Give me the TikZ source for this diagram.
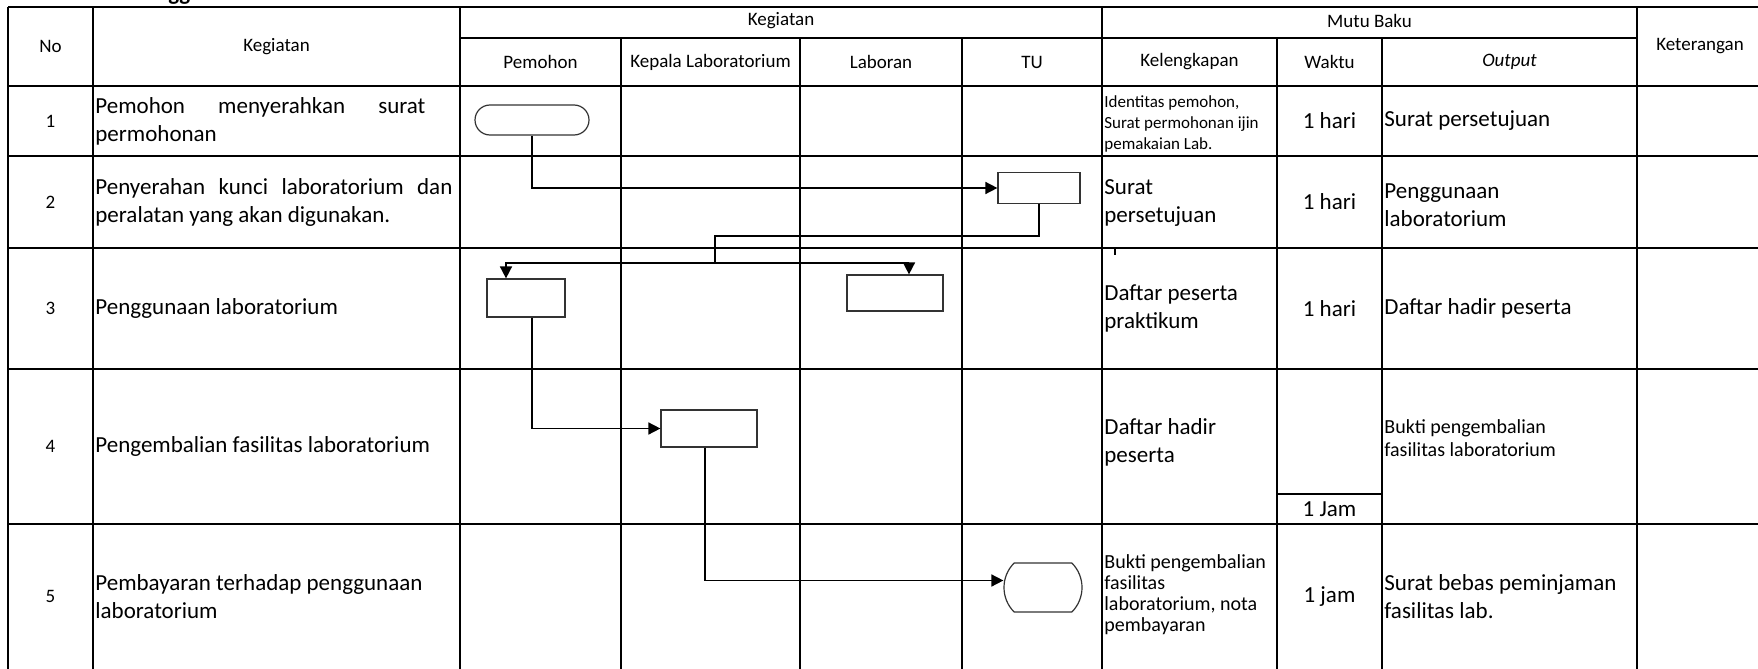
\documentclass[tikz,border=0pt]{standalone}
\usepackage{fontspec}
\setmainfont{Carlito}
\usetikzlibrary{arrows.meta, shapes.misc}

\begin{document}
\begin{tikzpicture}[x=0.5pt, y=-0.5pt,
grid/.style={line width=1.3pt},
hdr/.style={inner sep=0pt, font=\fontsize{9.5}{11.5}\selectfont},
mid/.style={inner sep=0pt, font=\fontsize{11.5}{14}\selectfont},
cell/.style={inner sep=0pt, anchor=west, align=left, font=\fontsize{11.5}{14}\selectfont},
smallcell/.style={cell, font=\fontsize{10}{11.5}\selectfont},
tinycell/.style={cell, font=\fontsize{8.5}{10.4}\selectfont},
box/.style={draw=black!80, line width=0.6pt, inner sep=0pt, fill=white},
term/.style={box, rounded rectangle},
link/.style={line width=0.8pt},
flow/.style={line width=0.8pt, -{Triangle[length=6pt, width=6pt]}}]

\useasboundingbox (0,0) rectangle (1758,669);

% title (cut off)
\node[anchor=base west, inner sep=0pt, font=\bfseries\fontsize{11.5}{14}\selectfont] (judul) at (168,1) {gg};

% table
\draw[grid] (8,7) -- (1758,7);
\draw[grid] (460,38) -- (1637,38);
\draw[grid] (8,86) -- (1758,86);
\draw[grid] (8,156) -- (1758,156);
\draw[grid] (8,248) -- (1758,248);
\draw[grid] (8,369) -- (1758,369);
\draw[grid] (1277,494) -- (1382,494);
\draw[grid] (8,524) -- (1758,524);
\draw[grid] (8,7) -- (8,669);
\draw[grid] (93,7) -- (93,669);
\draw[grid] (460,7) -- (460,669);
\draw[grid] (621,38) -- (621,669);
\draw[grid] (800,38) -- (800,669);
\draw[grid] (962,38) -- (962,669);
\draw[grid] (1102,7) -- (1102,669);
\draw[grid] (1277,38) -- (1277,669);
\draw[grid] (1382,38) -- (1382,669);
\draw[grid] (1637,7) -- (1637,669);

% header
\node[hdr] (hNo) at (50.5,46.5) {No};
\node[hdr] (hKeg) at (276.5,46.5) {Kegiatan};
\node[hdr] (hKegAtas) at (781,21) {Kegiatan};
\node[hdr] (hMutu) at (1369.5,21) {Mutu Baku};
\node[hdr] (hKet) at (1700,46.5) {Keterangan};
\node[hdr] (hPem) at (540.5,62) {Pemohon};
\node[hdr] (hKep) at (710.5,62) {Kepala Laboratorium};
\node[hdr] (hLab) at (881,62) {Laboran};
\node[hdr] (hTU) at (1032,62) {TU};
\node[hdr] (hLeng) at (1189.5,62) {Kelengkapan};
\node[hdr] (hWak) at (1329.5,62) {Waktu};
\node[hdr] (hOut) at (1509.5,62) {\itshape Output};

% nomor
\node[hdr] (n1) at (50.5,121) {1};
\node[hdr] (n2) at (50.5,202) {2};
\node[hdr] (n3) at (50.5,308.5) {3};
\node[hdr] (n4) at (50.5,446.5) {4};
\node[hdr] (n5) at (50.5,596.5) {5};

% kegiatan
\node[cell] (k1) at (95,121) {\makebox[165pt][s]{Pemohon menyerahkan surat}\\permohonan};
\node[cell] (k2) at (95,202) {\makebox[178.5pt][s]{Penyerahan kunci laboratorium dan}\\peralatan yang akan digunakan.};
\node[cell] (k3) at (95,308.5) {Penggunaan laboratorium};
\node[cell] (k4) at (95,446.5) {Pengembalian fasilitas laboratorium};
\node[cell] (k5) at (95,596.5) {Pembayaran terhadap penggunaan\\laboratorium};

% kelengkapan
\node[tinycell] (l1) at (1104,124) {Identitas pemohon,\\Surat permohonan ijin\\pemakaian Lab.};
\node[cell] (l2) at (1104,203) {Surat\\persetujuan};
\node[cell] (l3) at (1104,308.5) {Daftar peserta\\praktikum};
\node[cell] (l4) at (1104,442) {Daftar hadir\\peserta};
\node[smallcell, font=\fontsize{10}{10.5}\selectfont] (l5) at (1104,595) {Bukti pengembalian\\fasilitas\\laboratorium, nota\\pembayaran};

% waktu
\node[mid] (w1) at (1329.5,121) {1 hari};
\node[mid] (w2) at (1329.5,202) {1 hari};
\node[mid] (w3) at (1329.5,308.5) {1 hari};
\node[mid] (w4) at (1329.5,509) {1 Jam};
\node[mid] (w5) at (1329.5,596.5) {1 jam};

% output
\node[cell] (o1) at (1384,121) {Surat persetujuan};
\node[cell] (o2) at (1384,205) {Penggunaan\\laboratorium};
\node[cell] (o3) at (1384,308.5) {Daftar hadir peserta};
\node[smallcell] (o4) at (1384,438) {Bukti pengembalian\\fasilitas laboratorium};
\node[cell] (o5) at (1384,596.5) {Surat bebas peminjaman\\fasilitas lab.};

% flow
\node[term, minimum width=57pt, minimum height=15pt] (mulai) at (532,120) {};
\node[box, minimum width=41pt, minimum height=15.5pt] (tuSerah) at (1039,188) {};
\node[box, minimum width=39pt, minimum height=19pt] (pemPakai) at (526,298) {};
\node[box, minimum width=48pt, minimum height=18pt] (labPakai) at (895,293) {};
\node[box, minimum width=48pt, minimum height=18.5pt] (kepKembali) at (709,428.5) {};
\node[term, rounded rectangle arc length=90, minimum width=39pt, minimum height=24.5pt] (selesai) at (1043,587.5) {};

\coordinate (cabang) at (715,263);
\draw[flow] (mulai.south) |- (tuSerah.west);
\draw[link] (tuSerah.south) -- ++(0,32) -| (cabang);
\draw[flow] (cabang) -| ([xshift=-10pt]pemPakai.north);
\draw[flow] (cabang) -| ([xshift=7pt]labPakai.north);
\draw[flow] ([xshift=3pt]pemPakai.south) |- (kepKembali.west);
\draw[flow] ([xshift=-2pt]kepKembali.south) |- ([yshift=3.5pt]selesai.west);
\draw[line width=0.6pt] (1115,249) -- (1115,255);

\end{tikzpicture}
\end{document}
